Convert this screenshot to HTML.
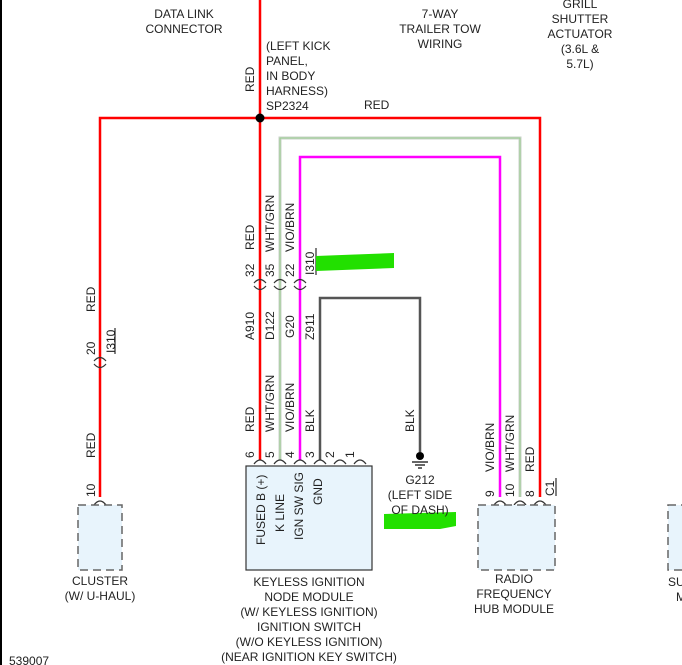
<!DOCTYPE html>
<html><head><meta charset="utf-8"><style>
html,body{margin:0;padding:0;background:#fff;}
svg{display:block;font-family:"Liberation Sans",sans-serif;}
text{fill:#222;font-size:12px;}
</style></head><body>
<svg width="682" height="665" viewBox="0 0 682 665" xmlns="http://www.w3.org/2000/svg">
<line x1="1" y1="0" x2="1" y2="665" stroke="#000" stroke-width="2"/>
<text x="184" y="18" text-anchor="middle">DATA LINK</text>
<text x="184" y="33" text-anchor="middle">CONNECTOR</text>
<text x="440" y="18" text-anchor="middle">7-WAY</text>
<text x="440" y="33" text-anchor="middle">TRAILER TOW</text>
<text x="440" y="48" text-anchor="middle">WIRING</text>
<text x="580" y="8" text-anchor="middle">GRILL</text>
<text x="580" y="23" text-anchor="middle">SHUTTER</text>
<text x="580" y="38" text-anchor="middle">ACTUATOR</text>
<text x="580" y="53" text-anchor="middle">(3.6L &amp;</text>
<text x="580" y="68" text-anchor="middle">5.7L)</text>
<text x="266" y="50">(LEFT KICK</text>
<text x="266" y="65">PANEL,</text>
<text x="266" y="80">IN BODY</text>
<text x="266" y="95">HARNESS)</text>
<text x="266" y="110">SP2324</text>
<text x="364" y="109">RED</text>
<text transform="translate(254,92) rotate(-90)">RED</text>

<g stroke="#f00" stroke-width="2.5" fill="none">
<line x1="260" y1="0" x2="260" y2="460"/>
<polyline points="100,497 100,118 540,118 540,497"/>
</g>
<circle cx="260" cy="118" r="4.5" fill="#000"/>
<g fill="none">
<polyline points="280,460 280,138 520,138 520,497" stroke="#c8d2c8" stroke-width="3"/>
<polyline points="280,460 280,138 520,138 520,497" stroke="#8fcf80" stroke-width="0.8"/>
<polyline points="300,460 300,157 500,157 500,497" stroke="#f0f" stroke-width="2.5"/>
<polyline points="320,460 320,298 420,298 420,452" stroke="#555" stroke-width="2.5"/>
</g>
<circle cx="420" cy="456" r="4" fill="#000"/>
<line x1="412" y1="462" x2="428" y2="462" stroke="#000" stroke-width="1.2"/>
<line x1="415" y1="465" x2="425" y2="465" stroke="#000" stroke-width="1.2"/>
<line x1="418" y1="468" x2="422" y2="468" stroke="#000" stroke-width="1.2"/>

<g stroke="#333" stroke-width="1.2" fill="none">
<path d="M254,283 Q260,276 266,283 M254,286 Q260,293 266,286"/>
<path d="M274,283 Q280,276 286,283 M274,286 Q280,293 286,286"/>
<path d="M294,283 Q300,276 306,283 M294,286 Q300,293 306,286"/>
<path d="M94,361 Q100,354 106,361 M94,364 Q100,371 106,364"/>
<path d="M254,464 Q260,456 266,464 M274,464 Q280,456 286,464 M294,464 Q300,456 306,464 M314,464 Q320,456 326,464 M334,464 Q340,456 346,464 M354,464 Q360,456 366,464"/>
<path d="M94,505 Q100,497 106,505"/>
<path d="M494,505 Q500,497 506,505 M514,505 Q520,497 526,505 M534,505 Q540,497 546,505"/>
</g>
<line x1="316" y1="248" x2="316" y2="275" stroke="#000" stroke-width="1"/>
<line x1="115" y1="328" x2="115" y2="354" stroke="#000" stroke-width="1"/>
<line x1="556" y1="478" x2="556" y2="496" stroke="#000" stroke-width="1"/>

<g>
<text transform="translate(254,250) rotate(-90)">RED</text>
<text transform="translate(274,252) rotate(-90)">WHT/GRN</text>
<text transform="translate(294,252) rotate(-90)">VIO/BRN</text>
<text transform="translate(254,277) rotate(-90)">32</text>
<text transform="translate(274,277) rotate(-90)">35</text>
<text transform="translate(294,277) rotate(-90)">22</text>
<text transform="translate(314,275) rotate(-90)">I310</text>
<text transform="translate(254,340) rotate(-90)">A910</text>
<text transform="translate(274,340) rotate(-90)">D122</text>
<text transform="translate(294,338) rotate(-90)">G20</text>
<text transform="translate(314,340) rotate(-90)">Z911</text>
<text transform="translate(254,432) rotate(-90)">RED</text>
<text transform="translate(274,432) rotate(-90)">WHT/GRN</text>
<text transform="translate(294,432) rotate(-90)">VIO/BRN</text>
<text transform="translate(314,432) rotate(-90)">BLK</text>
<text transform="translate(414,432) rotate(-90)">BLK</text>
<text transform="translate(254,458) rotate(-90)">6</text>
<text transform="translate(274,458) rotate(-90)">5</text>
<text transform="translate(294,458) rotate(-90)">4</text>
<text transform="translate(314,458) rotate(-90)">3</text>
<text transform="translate(334,458) rotate(-90)">2</text>
<text transform="translate(354,458) rotate(-90)">1</text>
<text transform="translate(95,312) rotate(-90)">RED</text>
<text transform="translate(95,355) rotate(-90)">20</text>
<text transform="translate(115,353) rotate(-90)">I310</text>
<text transform="translate(95,458) rotate(-90)">RED</text>
<text transform="translate(95,497) rotate(-90)">10</text>
<text transform="translate(494,472) rotate(-90)">VIO/BRN</text>
<text transform="translate(514,472) rotate(-90)">WHT/GRN</text>
<text transform="translate(534,472) rotate(-90)">RED</text>
<text transform="translate(494,497) rotate(-90)">9</text>
<text transform="translate(514,497) rotate(-90)">10</text>
<text transform="translate(534,497) rotate(-90)">8</text>
<text transform="translate(554,496) rotate(-90)">C1</text>
</g>

<rect x="246" y="466" width="126" height="104" fill="#e8f4fc" stroke="#333" stroke-width="1.2"/>
<text transform="translate(265,545) rotate(-90)">FUSED B (+)</text>
<text transform="translate(284,532) rotate(-90)">K LINE</text>
<text transform="translate(303,540) rotate(-90)">IGN SW SIG</text>
<text transform="translate(322,505) rotate(-90)">GND</text>
<rect x="78" y="505" width="44" height="65" fill="#e8f4fc" stroke="#666" stroke-width="1.5" stroke-dasharray="8,5"/>
<rect x="478" y="505" width="77" height="65" fill="#e8f4fc" stroke="#666" stroke-width="1.5" stroke-dasharray="8,5"/>
<rect x="668" y="505" width="20" height="65" fill="#e8f4fc" stroke="#666" stroke-width="1.5" stroke-dasharray="8,5"/>

<path d="M316,256 L394,253 L394,268 L316,271 Z" fill="#22e000"/>
<path d="M384,514 L456,512 L456,526 L440,529 L384,529 Z" fill="#22e000"/>

<text x="420" y="484" text-anchor="middle">G212</text>
<text x="420" y="499" text-anchor="middle">(LEFT SIDE</text>
<text x="420" y="514" text-anchor="middle">OF DASH)</text>
<text x="100" y="585" text-anchor="middle">CLUSTER</text>
<text x="100" y="600" text-anchor="middle">(W/ U-HAUL)</text>
<text x="309" y="586" text-anchor="middle">KEYLESS IGNITION</text>
<text x="309" y="601" text-anchor="middle">NODE MODULE</text>
<text x="309" y="616" text-anchor="middle">(W/ KEYLESS IGNITION)</text>
<text x="309" y="631" text-anchor="middle">IGNITION SWITCH</text>
<text x="309" y="646" text-anchor="middle">(W/O KEYLESS IGNITION)</text>
<text x="309" y="661" text-anchor="middle">(NEAR IGNITION KEY SWITCH)</text>
<text x="514" y="583" text-anchor="middle">RADIO</text>
<text x="514" y="598" text-anchor="middle">FREQUENCY</text>
<text x="514" y="613" text-anchor="middle">HUB MODULE</text>
<text x="668" y="586">SU</text>
<text x="676" y="601">M</text>
<text x="9" y="665">539007</text>
</svg>
</body></html>
